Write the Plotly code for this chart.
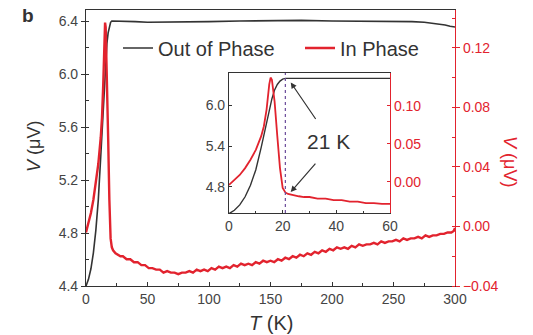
import plotly.graph_objects as go

# ---------------- data ----------------
# Out of Phase (left axis, µV)
T_out = [0, 2, 4, 6, 8, 10, 12, 14, 16, 17, 18, 19, 20, 21, 22, 25, 30, 40, 50, 75, 100,
         125, 150, 175, 200, 225, 250, 265, 275, 285, 292, 296, 300]
V_out = [4.40, 4.45, 4.53, 4.65, 4.82, 5.05, 5.38, 5.75, 6.10, 6.23, 6.31, 6.36, 6.39, 6.40, 6.40,
         6.40, 6.395, 6.395, 6.39, 6.39, 6.395, 6.40, 6.405, 6.405, 6.40, 6.40, 6.40, 6.395, 6.39,
         6.38, 6.37, 6.36, 6.355]

# In Phase (right axis, µV)
T_in = [0, 2, 4, 6, 8, 10, 12, 13, 14, 15, 15.5, 16, 17, 18, 19, 20, 21, 22, 24,
        26, 28, 30, 33, 36, 39, 42, 45, 48, 51, 54, 57, 60, 63, 66, 69, 72, 75, 78, 81,
        84, 87, 90, 93, 96, 99, 102, 105, 108, 111, 114, 117, 120, 123, 126, 129, 132,
        135, 138, 141, 144, 147, 150, 153, 156, 159, 162, 165, 168, 171, 174, 177, 180,
        183, 186, 189, 192, 195, 198, 201, 204, 207, 210, 213, 216, 219, 222, 225, 228,
        231, 234, 237, 240, 243, 246, 249, 252, 255, 258, 261, 264, 267, 270, 273, 276,
        279, 282, 285, 288, 291, 294, 297, 299, 300]
V_in = [-0.004, 0.002, 0.009, 0.018, 0.029, 0.042, 0.060, 0.073, 0.095, 0.128, 0.137, 0.134,
        0.105, 0.060, 0.018, -0.008, -0.014, -0.016, -0.018,
        -0.019, -0.020, -0.020, -0.022, -0.022, -0.024, -0.024, -0.026, -0.026, -0.028,
        -0.028, -0.029, -0.029, -0.031, -0.030, -0.031, -0.031, -0.032, -0.031, -0.031,
        -0.030, -0.031, -0.029, -0.030, -0.029, -0.030, -0.028, -0.029, -0.027, -0.028,
        -0.027, -0.028, -0.026, -0.027, -0.025, -0.026, -0.025, -0.026, -0.024, -0.025,
        -0.023, -0.024, -0.023, -0.024, -0.022, -0.023, -0.021, -0.022, -0.020, -0.021,
        -0.019, -0.020, -0.018, -0.019, -0.017, -0.018, -0.016, -0.017, -0.015, -0.016,
        -0.014, -0.015, -0.014, -0.015, -0.013, -0.014, -0.012, -0.013, -0.012, -0.012,
        -0.011, -0.012, -0.010, -0.011, -0.010, -0.010, -0.009, -0.010, -0.008, -0.009,
        -0.008, -0.008, -0.007, -0.008, -0.006, -0.007, -0.006, -0.006, -0.005, -0.005,
        -0.004, -0.004, -0.003, -0.001]

x_ticks_main = [0, 50, 100, 150, 200, 250, 300]
yl_ticks_main = [4.4, 4.8, 5.2, 5.6, 6.0, 6.4]
yr_ticks_main = [-0.04, 0.00, 0.04, 0.08, 0.12]
x_ticks_inset = [0, 20, 40, 60]
yl_ticks_inset = [4.8, 5.4, 6.0]
yr_ticks_inset = [0.00, 0.05, 0.10]
T_mark = 21

# ---------------- style ----------------
BLACK = "#333333"
RED = "#e2232e"
FONT = "Liberation Sans, Arial, sans-serif"
W, H = 533, 335
L, R, TOP, BOT = 86, 455, 10, 286


def px(x):
    return (x - L) / (R - L)


def py(y):
    return (BOT - y) / (BOT - TOP)


fig = go.Figure()
fig.add_trace(go.Scatter(x=T_out, y=V_out, mode="lines", name="Out of Phase",
                         line=dict(color=BLACK, width=1.6), xaxis="x", yaxis="y",
                         legend="legend"))
fig.add_trace(go.Scatter(x=T_in, y=V_in, mode="lines", name="In Phase",
                         line=dict(color=RED, width=2.4), xaxis="x", yaxis="y2",
                         legend="legend2"))
fig.add_trace(go.Scatter(x=T_out, y=V_out, mode="lines", showlegend=False,
                         line=dict(color=BLACK, width=1.4), xaxis="x2", yaxis="y3"))
fig.add_trace(go.Scatter(x=T_in, y=V_in, mode="lines", showlegend=False,
                         line=dict(color=RED, width=1.8), xaxis="x2", yaxis="y4"))

tickfont = dict(family=FONT, size=14, color="#444444")
redtick = dict(family=FONT, size=14, color=RED)

# inset domain
ix = [px(229), px(390)]
iy = [py(213), py(73)]

legfont = dict(family=FONT, size=20, color=BLACK)
fig.update_layout(
    width=W, height=H,
    margin=dict(l=L, r=W - R, t=TOP, b=H - BOT),
    paper_bgcolor="white", plot_bgcolor="white",
    font=dict(family=FONT, color=BLACK),
    showlegend=True,
    legend=dict(x=px(118), y=py(48), xanchor="left", yanchor="middle",
                font=legfont, bgcolor="rgba(0,0,0,0)", itemwidth=30),
    legend2=dict(x=px(300), y=py(48), xanchor="left", yanchor="middle",
                 font=legfont, bgcolor="rgba(0,0,0,0)", itemwidth=30),
    xaxis=dict(domain=[0, 1], range=[0, 300], tickvals=x_ticks_main,
               showline=True, linecolor=BLACK, linewidth=1.2, mirror=True,
               ticks="inside", ticklen=4, tickcolor=BLACK, tickfont=tickfont,
               minor=dict(dtick=25, ticks="inside", ticklen=3, tickcolor=BLACK),
               showgrid=False, zeroline=False),
    yaxis=dict(range=[4.4, 6.483], tickvals=yl_ticks_main, tickformat=".1f",
               showline=True, linecolor=BLACK, linewidth=1.2,
               ticks="outside", ticklen=4, tickcolor=BLACK, tickfont=tickfont,
               minor=dict(dtick=0.2, tick0=4.4, ticks="inside", ticklen=3, tickcolor=BLACK),
               showgrid=False, zeroline=False),
    yaxis2=dict(range=[-0.04, 0.1455], overlaying="y", side="right", tickvals=yr_ticks_main,
                tickformat=".2f", showline=True, linecolor=RED, linewidth=1.2,
                ticks="outside", ticklen=4, tickcolor=RED, tickfont=redtick,
                minor=dict(dtick=0.02, tick0=0, ticks="inside", ticklen=3, tickcolor=RED),
                showgrid=False, zeroline=False),
    xaxis2=dict(domain=ix, anchor="y3", range=[0, 60], tickvals=x_ticks_inset,
                showline=True, linecolor=BLACK, linewidth=1.2, mirror=True,
                ticks="inside", ticklen=3, tickcolor=BLACK, tickfont=tickfont,
                minor=dict(dtick=10, ticks="inside", ticklen=2, tickcolor=BLACK),
                showgrid=False, zeroline=False),
    yaxis3=dict(domain=iy, anchor="x2", range=[4.41, 6.48], tickvals=yl_ticks_inset,
                tickformat=".1f", showline=True, linecolor=BLACK, linewidth=1.2,
                ticks="inside", ticklen=3, tickcolor=BLACK, tickfont=tickfont,
                showgrid=False, zeroline=False),
    yaxis4=dict(domain=iy, anchor="x2", overlaying="y3", side="right",
                range=[-0.041, 0.143], tickvals=yr_ticks_inset, tickformat=".2f",
                showline=True, linecolor=RED, linewidth=1.2,
                ticks="inside", ticklen=3, tickcolor=RED, tickfont=redtick,
                showgrid=False, zeroline=False),
)

# dotted line at 21 K in inset
fig.add_shape(type="line", xref="x2", yref="y3 domain", x0=T_mark, x1=T_mark, y0=0, y1=1,
              line=dict(color="#6a4a9a", width=1.2, dash="dot"))

annos = [
    dict(text="b", x=28, y=16, font=dict(size=19, color=BLACK), weight="bold"),
    dict(text="<i>V</i> (μV)", x=34, y=147, font=dict(size=18, color=BLACK), textangle=-90),
    dict(text="<i>V</i> (μV)", x=510, y=161, font=dict(size=18, color=RED), textangle=90),
    dict(text="<i>T</i> (K)", x=271, y=323, font=dict(size=20, color=BLACK)),
]
for a in annos:
    fig.add_annotation(text=a["text"], x=px(a["x"]), y=py(a["y"]),
                       xref="paper", yref="paper", showarrow=False,
                       xanchor="center", yanchor="middle",
                       textangle=a.get("textangle", 0),
                       font=dict(family=FONT, **a["font"],
                                 weight=a.get("weight", "normal")))

# 21 K label with arrows
fig.add_annotation(text="21 K", xref="x2", yref="y3", x=37, y=5.47, showarrow=False,
                   font=dict(family=FONT, size=21, color=BLACK))
fig.add_annotation(text="", xref="x2", yref="y3", x=23, y=6.34, ax=26, ay=38,
                   showarrow=True, arrowhead=2, arrowsize=1, arrowwidth=1.2,
                   arrowcolor=BLACK)
fig.add_annotation(text="", xref="x2", yref="y3", x=23, y=4.72, ax=26, ay=-30,
                   showarrow=True, arrowhead=2, arrowsize=1, arrowwidth=1.2,
                   arrowcolor=BLACK)

fig.write_html("out.html")
